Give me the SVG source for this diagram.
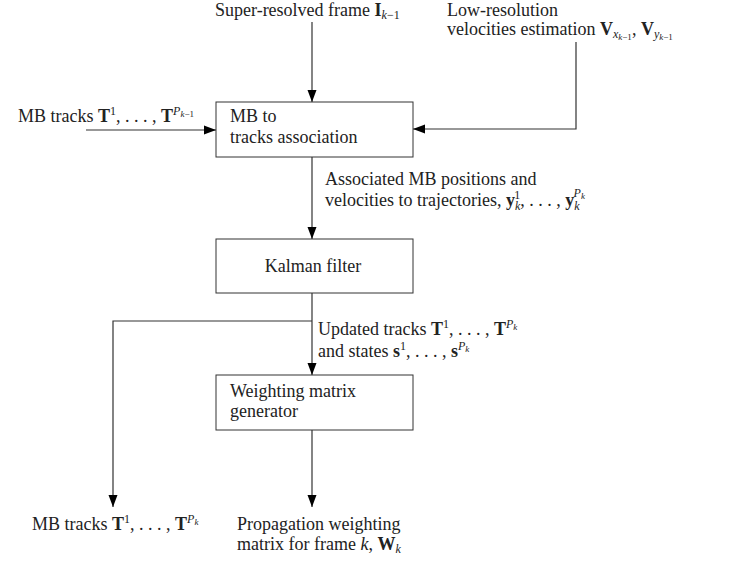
<svg xmlns="http://www.w3.org/2000/svg" width="731" height="561" viewBox="0 0 731 561" font-family="'Liberation Serif', 'DejaVu Serif', serif">
<style>
text{font-family:"Liberation Serif","DejaVu Serif",serif;font-size:18px;fill:#222}
.b{font-weight:bold}
.i{font-style:italic}
.s{font-size:12px}
.ss{font-size:9px}
.box{fill:#fff;stroke:#333;stroke-width:1}
.ln{fill:none;stroke:#333;stroke-width:1.2}
</style>
<defs>
<marker id="ar" viewBox="0 0 12 10" refX="12" refY="5" markerWidth="12" markerHeight="10" markerUnits="userSpaceOnUse" orient="auto">
<path d="M0,0.5 L12,5 L0,9.5 Z" fill="#000"/>
</marker>
</defs>
<g id="connectors">
<line class="ln" x1="312" y1="22" x2="312" y2="102" marker-end="url(#ar)"/>
<polyline class="ln" points="576,42 576,129 413,129" marker-end="url(#ar)"/>
<line class="ln" x1="86" y1="130" x2="216" y2="130" marker-end="url(#ar)"/>
<line class="ln" x1="312" y1="157" x2="312" y2="239" marker-end="url(#ar)"/>
<line class="ln" x1="312" y1="293" x2="312" y2="375" marker-end="url(#ar)"/>
<polyline class="ln" points="312,321 113,321 113,507" marker-end="url(#ar)"/>
<line class="ln" x1="312" y1="430" x2="312" y2="507" marker-end="url(#ar)"/>
</g>
<g id="label-superresolved">
<text x="215" y="16">Super-resolved frame <tspan class="b">I</tspan><tspan class="s i" dy="3">k</tspan><tspan class="s">−1</tspan></text>
</g>
<g id="label-lowres">
<text x="447" y="16">Low-resolution</text>
<text x="447" y="35">velocities estimation <tspan class="b">V</tspan><tspan class="s i" dy="3">x</tspan><tspan class="ss i" dy="2">k</tspan><tspan class="ss">−1</tspan><tspan dy="-5">, </tspan><tspan class="b">V</tspan><tspan class="s i" dy="3">y</tspan><tspan class="ss i" dy="2">k</tspan><tspan class="ss">−1</tspan></text>
</g>
<g id="label-mbtracks-in">
<text x="18" y="122">MB tracks <tspan class="b">T</tspan><tspan class="s" dy="-7">1</tspan><tspan dy="7">, . . . , </tspan><tspan class="b">T</tspan><tspan class="s i" dy="-7">P</tspan><tspan class="ss i" dy="2">k</tspan><tspan class="ss">−1</tspan></text>
</g>
<g id="node-association">
<rect class="box" x="216" y="102" width="197" height="55"/>
<text x="230" y="122">MB to</text>
<text x="230" y="143">tracks association</text>
</g>
<g id="label-associated">
<text x="325" y="185">Associated MB positions and</text>
<text x="325" y="206">velocities to trajectories, <tspan class="b">y</tspan><tspan class="s i" dy="4">k</tspan><tspan class="s" dx="-6" dy="-11">1</tspan><tspan dy="7">, . . . , </tspan><tspan class="b">y</tspan><tspan class="s i" dy="4">k</tspan><tspan class="s i" dx="-6" dy="-13">P</tspan><tspan class="ss i" dy="2">k</tspan></text>
</g>
<g id="node-kalman">
<rect class="box" x="216" y="239" width="197" height="54"/>
<text x="313" y="272" text-anchor="middle">Kalman filter</text>
</g>
<g id="label-updated">
<text x="318" y="335">Updated tracks <tspan class="b">T</tspan><tspan class="s" dy="-7">1</tspan><tspan dy="7">, . . . , </tspan><tspan class="b">T</tspan><tspan class="s i" dy="-7">P</tspan><tspan class="ss i" dy="2">k</tspan></text>
<text x="318" y="357">and states <tspan class="b">s</tspan><tspan class="s" dy="-7">1</tspan><tspan dy="7">, . . . , </tspan><tspan class="b">s</tspan><tspan class="s i" dy="-7">P</tspan><tspan class="ss i" dy="2">k</tspan></text>
</g>
<g id="node-weighting">
<rect class="box" x="216" y="375" width="197" height="55"/>
<text x="230" y="397">Weighting matrix</text>
<text x="230" y="417">generator</text>
</g>
<g id="label-mbtracks-out">
<text x="32" y="530">MB tracks <tspan class="b">T</tspan><tspan class="s" dy="-7">1</tspan><tspan dy="7">, . . . , </tspan><tspan class="b">T</tspan><tspan class="s i" dy="-7">P</tspan><tspan class="ss i" dy="2">k</tspan></text>
</g>
<g id="label-propagation">
<text x="237" y="530">Propagation weighting</text>
<text x="237" y="550">matrix for frame <tspan class="i">k</tspan>, <tspan class="b">W</tspan><tspan class="s i" dy="3">k</tspan></text>
</g>
</svg>
